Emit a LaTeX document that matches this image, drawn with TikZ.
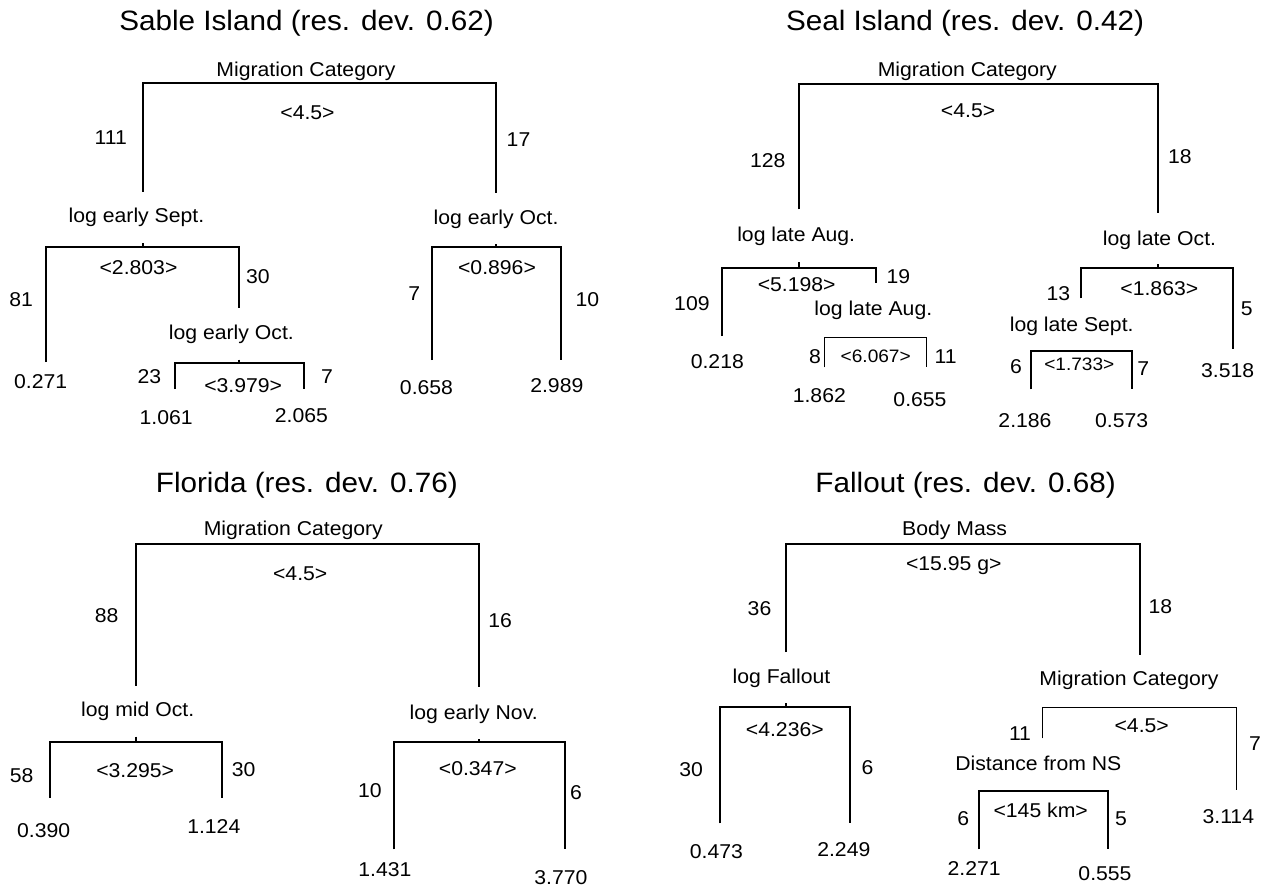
\documentclass[tikz,border=0pt]{standalone}
\usepackage{fontspec}
\setmainfont{Liberation Sans}[FakeStretch=1.06]
\newcommand{\splitbr}[7][]{%
  \coordinate (#2-bl) at (#3,#6);
  \coordinate (#2-tl) at (#3,#5);
  \coordinate (#2-tr) at (#4,#5);
  \coordinate (#2-br) at (#4,#7);
  \draw[br,#1] (#2-bl) -- (#2-tl) -- (#2-tr) -- (#2-br);
}
\newcommand{\splittick}[4]{%
  \coordinate (#1-tt) at (#2,#3);
  \coordinate (#1-tb) at (#2,#4);
  \draw[br] (#1-tt) -- (#1-tb);
}
\begin{document}
\begin{tikzpicture}[x=1pt,y=-1pt,
  lab/.style={inner sep=0pt, text height=14.3pt, text depth=0pt, font=\fontsize{20}{20}\selectfont},
  small/.style={inner sep=0pt, text height=12.9pt, text depth=0pt, font=\fontsize{18}{18}\selectfont},
  ttl/.style={inner sep=0pt, text height=20pt, text depth=0pt, font=\fontsize{28}{28}\selectfont},
  br/.style={line width=2pt, line join=miter},
  thinbr/.style={line width=1.2pt}]
\useasboundingbox (0,0) rectangle (1268,888);

% ---------------- Sable Island ----------------
\node[ttl] (t1) at (306.5,20.5) {Sable Island (res. dev. 0.62)};
\node[lab] (a0) at (306,69) {Migration Category};
\splitbr{A0}{142.6}{496}{83.5}{191.7}{193}
\node[lab] (a0s) at (307.5,112.7) {<4.5>};
\node[lab] (a0l) at (110.8,137) {111};
\node[lab] (a0r) at (518.5,139) {17};
\node[lab] (a1) at (136.5,215) {log early Sept.};
\splittick{A1}{142.6}{243}{247}
\splitbr{A1}{45.6}{238.7}{247}{362}{308}
\node[lab] (a1s) at (138.5,267.7) {<2.803>};
\node[lab] (a1l) at (21.2,299) {81};
\node[lab] (a1r) at (257.8,276) {30};
\node[lab] (a2) at (231.4,332.3) {log early Oct.};
\splittick{A2}{238.7}{359.5}{362.7}
\splitbr{A2}{175.2}{303.9}{362.7}{389}{389}
\node[lab] (a2l) at (149.5,376.7) {23};
\node[lab] (a2s) at (243.2,385.7) {<3.979>};
\node[lab] (a2r) at (327.1,376.7) {7};
\node[lab] (a3) at (496.1,217.3) {log early Oct.};
\splittick{A3}{496}{244}{247}
\splitbr{A3}{431.8}{561.3}{247}{360}{360}
\node[lab] (a3s) at (497,267.7) {<0.896>};
\node[lab] (a3l) at (414.3,293.3) {7};
\node[lab] (a3r) at (587.4,299.3) {10};
\node[lab] (aL1) at (40.7,381.7) {0.271};
\node[lab] (aL2) at (166.2,417.3) {1.061};
\node[lab] (aL3) at (301.4,415) {2.065};
\node[lab] (aL4) at (426.5,387.3) {0.658};
\node[lab] (aL5) at (556.8,385) {2.989};

% ---------------- Seal Island ----------------
\node[ttl] (t2) at (965,20.5) {Seal Island (res. dev. 0.42)};
\node[lab] (b0) at (967.3,69) {Migration Category};
\splitbr{B0}{799}{1158}{84}{209.3}{213.3}
\node[lab] (b0s) at (968.1,110) {<4.5>};
\node[lab] (b0l) at (767.7,160.7) {128};
\node[lab] (b0r) at (1179.9,156.7) {18};
\node[lab] (b1) at (796.2,234) {log late Aug.};
\splittick{B1}{799}{262}{268.3}
\splitbr{B1}{722}{875.7}{268.3}{336}{283.3}
\node[lab] (b1s) at (796.7,284.3) {<5.198>};
\node[lab] (b1l) at (691.9,303.3) {109};
\node[lab] (b1r) at (898.3,276) {19};
\node[lab] (b2) at (873.3,308.5) {log late Aug.};
\splitbr[thinbr]{B2}{824.3}{926.7}{337.3}{367.3}{367.3}
\node[lab] (b2l) at (815,356) {8};
\node[small] (b2s) at (875.7,356) {<6.067>};
\node[lab] (b2r) at (945.7,356.7) {11};
\node[lab] (b3) at (1159.5,238) {log late Oct.};
\splittick{B3}{1158}{264}{268.3}
\splitbr{B3}{1080.7}{1233.3}{268.3}{298.3}{349.3}
\node[lab] (b3s) at (1159.3,288.3) {<1.863>};
\node[lab] (b3l) at (1058.3,293.3) {13};
\node[lab] (b3r) at (1246.7,308.3) {5};
\node[lab] (b4) at (1071.7,324.7) {log late Sept.};
\splitbr{B4}{1030.7}{1132}{350.7}{389.3}{389.3}
\node[lab] (b4l) at (1016,366.7) {6};
\node[small] (b4s) at (1079.3,364.3) {<1.733>};
\node[lab] (b4r) at (1143.3,368.3) {7};
\node[lab] (bL1) at (717.3,361) {0.218};
\node[lab] (bL2) at (819.3,395) {1.862};
\node[lab] (bL3) at (920,399) {0.655};
\node[lab] (bL4) at (1227.7,370) {3.518};
\node[lab] (bL5) at (1025,420) {2.186};
\node[lab] (bL6) at (1121.7,420) {0.573};

% ---------------- Florida ----------------
\node[ttl] (t3) at (306.8,482.5) {Florida (res. dev. 0.76)};
\node[lab] (c0) at (293.3,528.5) {Migration Category};
\splitbr{C0}{135.6}{479}{544}{685.7}{687.3}
\node[lab] (c0s) at (300.2,573.3) {<4.5>};
\node[lab] (c0l) at (106.7,615.7) {88};
\node[lab] (c0r) at (500.2,620) {16};
\node[lab] (c1) at (137.7,709.7) {log mid Oct.};
\splittick{C1}{135.6}{736.7}{742.3}
\splitbr{C1}{49.7}{222}{742.3}{797.7}{797.7}
\node[lab] (c1s) at (135.2,770) {<3.295>};
\node[lab] (c1l) at (21.6,775) {58};
\node[lab] (c1r) at (243.6,769.3) {30};
\node[lab] (c2) at (473.7,712) {log early Nov.};
\splittick{C2}{479}{739.3}{742.3}
\splitbr{C2}{393.9}{564.6}{742.3}{849.3}{849.3}
\node[lab] (c2s) at (477.8,768.3) {<0.347>};
\node[lab] (c2l) at (369.9,790) {10};
\node[lab] (c2r) at (576,792.3) {6};
\node[lab] (cL1) at (43.6,830) {0.390};
\node[lab] (cL2) at (213.8,826) {1.124};
\node[lab] (cL3) at (384.9,869.3) {1.431};
\node[lab] (cL4) at (560.9,877.5) {3.770};

% ---------------- Fallout ----------------
\node[ttl] (t4) at (965.6,482.5) {Fallout (res. dev. 0.68)};
\node[lab] (d0) at (954.6,528) {Body Mass};
\splitbr{D0}{785.6}{1140}{544}{652}{655.3}
\node[lab] (d0s) at (953.8,563) {<15.95 g>};
\node[lab] (d0l) at (759.5,608.3) {36};
\node[lab] (d0r) at (1160.3,606.7) {18};
\node[lab] (d1) at (781.5,676.3) {log Fallout};
\splittick{D1}{785.6}{703}{706.7}
\splitbr{D1}{720.4}{850}{706.7}{823.3}{823.3}
\node[lab] (d1s) at (784.8,729.3) {<4.236>};
\node[lab] (d1l) at (691.1,769.3) {30};
\node[lab] (d1r) at (867.5,767.3) {6};
\node[lab] (d2) at (1129,678.7) {Migration Category};
\splitbr[thinbr]{D2}{1042.3}{1236.7}{707.3}{738.3}{790}
\node[lab] (d2s) at (1141.7,725) {<4.5>};
\node[lab] (d2l) at (1020,733.3) {11};
\node[lab] (d2r) at (1255,743.3) {7};
\node[lab] (d3) at (1038.3,763) {Distance from NS};
\splitbr{D3}{979.3}{1107.7}{791}{849.3}{849.3}
\node[lab] (d3l) at (963.3,818.3) {6};
\node[lab] (d3s) at (1040.7,810) {<145 km>};
\node[lab] (d3r) at (1121,818.3) {5};
\node[lab] (dL1) at (716.4,851.7) {0.473};
\node[lab] (dL2) at (843.8,849.3) {2.249};
\node[lab] (dL3) at (1228.3,816.7) {3.114};
\node[lab] (dL4) at (974.2,868.3) {2.271};
\node[lab] (dL5) at (1105,873.3) {0.555};
\end{tikzpicture}
\end{document}
